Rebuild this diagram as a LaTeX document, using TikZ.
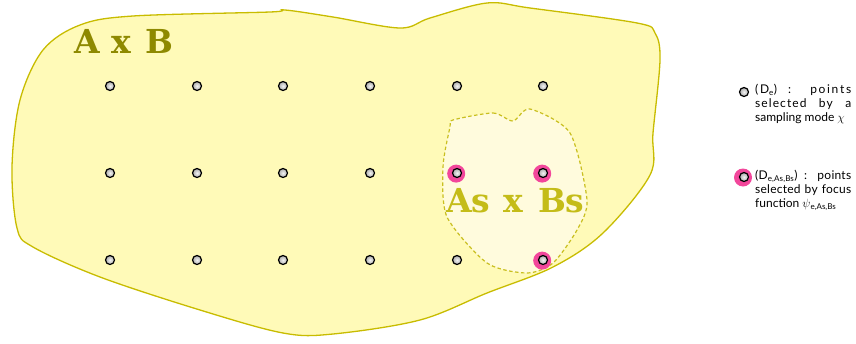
\documentclass[tikz,border=0pt]{standalone}
\usepackage{fontspec}
\usepackage{xcolor}
\usepackage{tikz}
\usetikzlibrary{positioning,calc}
\newfontfamily\legendfont{Lato}
\newfontfamily\titlefont{DejaVu Serif}
\newcommand{\spacedline}[2]{\makebox[96pt][s]{\addfontfeature{LetterSpace=#1}#2}}

\definecolor{setfill}{HTML}{FFFAB8}
\definecolor{setline}{HTML}{C8BC00}
\definecolor{subfill}{HTML}{FFFBDD}
\definecolor{subline}{HTML}{C9BF20}
\definecolor{titleAB}{HTML}{8E8900}
\definecolor{titleS}{HTML}{C4BC18}
\definecolor{focus}{HTML}{F2479B}

\tikzset{
  pt/.style={circle, draw=black, line width=1.2pt, inner sep=0pt, minimum size=9pt,
    inner color=gray!10, outer color=gray!65},
  focusring/.style={circle, fill=focus, inner sep=0pt, minimum size=18pt},
  legendtext/.style={anchor=north west, inner sep=0pt, align=left,
    font=\legendfont\fontsize{12}{14}\selectfont},
  title/.style={anchor=base west, inner sep=0pt, font=\titlefont\bfseries\fontsize{33}{33}\selectfont}
}

\begin{document}
\begin{tikzpicture}[x=1pt,y=-1pt]
\useasboundingbox (0,0) rectangle (856,343);

% the whole set A x B
\draw[setline, fill=setfill, line width=1.3pt] plot[smooth cycle, tension=0.55] coordinates {
  (80,25) (133,16) (270,12) (285,10) (333,17) (400,28) (430,18) (487,3) (530,8)
  (637,23) (655,33) (660,60) (653,133) (650,175) (603,233) (553,267) (487,293)
  (420,320) (333,334) (283,333) (200,310) (100,277) (33,247) (17,228) (12,167)
  (20,100) (43,50)};

% the subset As x Bs
\draw[subline, fill=subfill, line width=1.2pt, dash pattern=on 3.5pt off 2.5pt]
  plot[smooth cycle, tension=0.45] coordinates {
  (453,120) (493,113) (513,121) (530,109) (570,133) (587,200) (577,230) (553,263)
  (527,273) (487,263) (447,217) (443,167) (450,127)};

\node[title, text=titleAB] (tAB) at (74,53) {A\hspace{0.35em}x\hspace{0.45em}B};
\node[title, text=titleS] (tS) at (446,212) {As\hspace{0.4em}x\hspace{0.45em}Bs};

% focus rings
\foreach \x/\y in {457/173, 543/173, 543/260}
  \node[focusring] (f\x\y) at ($(\x,\y)+(-0.8,0.6)$) {};

% grid of sampled points
\foreach \x [count=\i] in {110,197,283,370,457,543}
  \foreach \y [count=\j] in {86,173,260}
    \node[pt] (p\i\j) at (\x,\y) {};

% legend
\node[pt] (l1) at (744,92) {};
\node[legendtext] (t1) at (755,84) {%
  \spacedline{14}{(D\textsubscript{e}) : points}\\
  \spacedline{9}{selected by a}\\
  sampling mode $\chi$};

\node[focusring] (l2r) at (743,177.5) {};
\node[pt] (l2) at (744,177) {};
\node[legendtext] (t2) at (755,170) {%
  \spacedline{2}{(D\textsubscript{e,As,Bs}) : points}\\
  \spacedline{2}{selected by focus}\\
  function $\psi$\textsubscript{e,As,Bs}};
\end{tikzpicture}
\end{document}
